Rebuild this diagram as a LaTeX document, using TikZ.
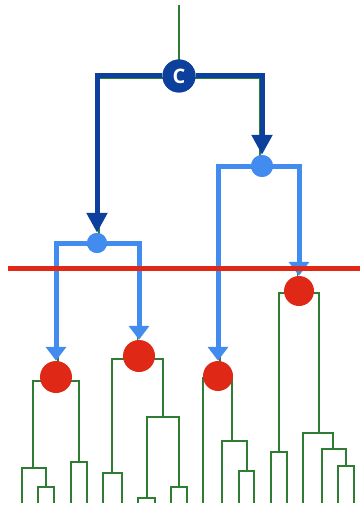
\documentclass[tikz,border=0pt]{standalone}
\usepackage{fontspec}
\setsansfont{Open Sans}
\usetikzlibrary{arrows.meta}
\definecolor{dgreen}{RGB}{46,125,50}
\definecolor{dblue}{RGB}{12,64,156}
\definecolor{lblue}{RGB}{66,140,240}
\definecolor{cred}{RGB}{224,40,22}
\begin{document}
\begin{tikzpicture}[x=1pt,y=-1pt,
  tree/.style={draw=dgreen,line width=1.8pt},
  darkarrow/.style={draw=dblue,line width=5pt,-{Triangle[width=20pt,length=20pt]}},
  lightarrow/.style={draw=lblue,line width=5pt,-{Triangle[width=20pt,length=14pt]}},
  rootnode/.style={circle,fill=dblue,minimum size=33pt,inner sep=0pt,text=white,font=\sffamily\bfseries\fontsize{20}{20}\selectfont},
  splitnode/.style={circle,fill=lblue,inner sep=0pt},
  clusternode/.style={circle,fill=cred,inner sep=0pt},
  cutline/.style={draw=cred,line width=5pt}]
\useasboundingbox (0,0) rectangle (360,508);
% green dendrogram
\draw[tree] (179,5) -- (179,78);
\draw[tree] (98.8,244.8) |- (260.2,77.8) -- (260.2,167.8);
\draw[tree] (57.8,381) |- (137.4,244.8) -- (137.4,359);
\draw[tree] (219.8,378) |- (297.4,167.8) -- (297.4,293);
% subtree A
\draw[tree] (33,468) |- (79,381) -- (79,462);
\draw[tree] (22,503) |- (46,468) -- (46,487);
\draw[tree] (38,503) |- (54,487) -- (54,503);
\draw[tree] (71,503) |- (87,462) -- (87,503);
% subtree B
\draw[tree] (112,473) |- (163,359) -- (163,417);
\draw[tree] (103,503) |- (122,473) -- (122,503);
\draw[tree] (147,498) |- (179,417) -- (179,487);
\draw[tree] (138,503) |- (155,498) -- (155,503);
\draw[tree] (171,503) |- (187,487) -- (187,503);
% subtree C
\draw[tree] (203,503) |- (232,378) -- (232,441);
\draw[tree] (222,503) |- (247,441) -- (247,471);
\draw[tree] (239,503) |- (254,471) -- (254,503);
% subtree D
\draw[tree] (279,452) |- (319,293) -- (319,433);
\draw[tree] (271,503) |- (287,452) -- (287,503);
\draw[tree] (303,503) |- (333,433) -- (333,449);
\draw[tree] (322,503) |- (346,449) -- (346,466);
\draw[tree] (338,503) |- (354,466) -- (354,503);
% nodes
\node[rootnode] (c) at (179,76) {C};
\node[splitnode,minimum size=20pt] (b1) at (97,243) {};
\node[splitnode,minimum size=22pt] (b2) at (262,166) {};
\node[clusternode,minimum size=32pt] (ra) at (56,377) {};
\node[clusternode,minimum size=32pt] (rb) at (139,356) {};
\node[clusternode,minimum size=30pt] (rc) at (218,376) {};
\node[clusternode,minimum size=30pt] (rd) at (299,291) {};
% blue connectors
\draw[darkarrow] (c) -| (b1);
\draw[darkarrow] (c) -| (b2);
\draw[lightarrow] (b1) -| (ra);
\draw[lightarrow] (b1) -| (rb);
\draw[lightarrow] (b2) -| (rc);
\draw[lightarrow] (b2) -| (rd);
% redraw nodes on top
\node[rootnode] at (c) {C};
\node[splitnode,minimum size=20pt] at (b1) {};
\node[splitnode,minimum size=22pt] at (b2) {};
% cut line
\coordinate (cutL) at (8,268);
\coordinate (cutR) at (360,268);
\draw[cutline] (cutL) -- (cutR);
\end{tikzpicture}
\end{document}
